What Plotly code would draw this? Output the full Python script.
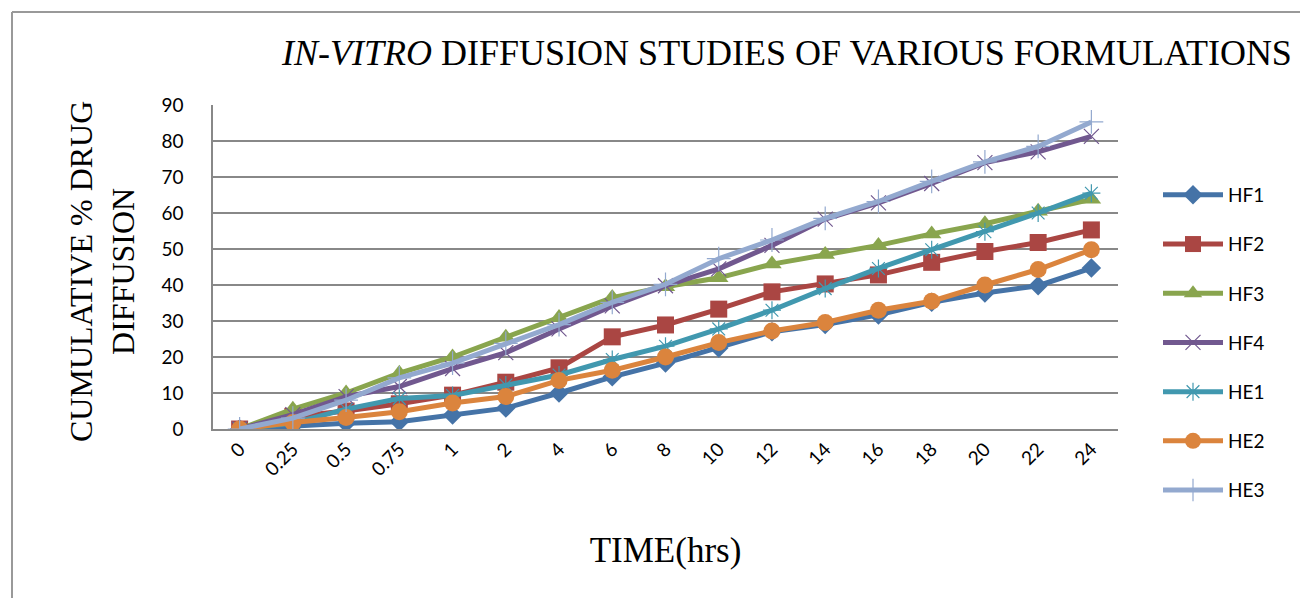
import plotly.graph_objects as go

time_labels = ["0", "0.25", "0.5", "0.75", "1", "2", "4", "6", "8", "10",
               "12", "14", "16", "18", "20", "22", "24"]

hf1 = [0, 0.8, 1.6, 2.0, 3.9, 5.8, 10.0, 14.5, 18.3, 22.5, 27.0, 29.0, 31.7, 35.2, 37.8, 39.8, 44.7]
hf2 = [0, 3.5, 5.0, 7.0, 9.4, 13.0, 17.0, 25.6, 28.9, 33.3, 38.1, 40.3, 42.8, 46.3, 49.3, 51.8, 55.3]
hf3 = [0, 5.5, 10.0, 15.5, 20.0, 25.5, 31.0, 36.5, 39.5, 42.0, 45.8, 48.5, 51.0, 54.2, 57.0, 60.5, 63.8]
hf4 = [0, 4.0, 9.0, 11.8, 16.8, 21.2, 27.8, 34.2, 39.8, 44.5, 51.0, 58.3, 62.8, 68.2, 74.0, 77.0, 81.3]
he1 = [0, 1.6, 5.5, 8.5, 9.3, 12.2, 15.0, 19.3, 23.0, 27.8, 33.0, 39.0, 44.6, 49.8, 54.8, 60.0, 65.5]
he2 = [0, 1.8, 3.2, 4.8, 7.2, 9.0, 13.5, 16.3, 20.0, 24.0, 27.2, 29.6, 33.0, 35.5, 40.0, 44.3, 49.8]
he3 = [0, 3.0, 8.0, 14.2, 18.3, 23.8, 29.0, 35.2, 40.2, 47.3, 52.5, 58.5, 63.2, 68.8, 74.2, 78.5, 85.3]

series = [
    ("HF1", hf1, "#4573A7", "diamond", 15, 0),
    ("HF2", hf2, "#AA4643", "square", 17, 0),
    ("HF3", hf3, "#89A54E", "triangle-up", 17, 0),
    ("HF4", hf4, "#71588F", "x-thin-open", 15, 1),
    ("HE1", he1, "#4198AF", "asterisk-open", 15, 1),
    ("HE2", he2, "#DB843D", "circle", 17, 0),
    ("HE3", he3, "#93A9CF", "cross-thin-open", 17, 1),
]

fig = go.Figure()
for name, vals, col, sym, sz, lw in series:
    mk = dict(symbol=sym, size=sz, color=col)
    if lw:
        mk["line"] = dict(color=col, width=1.2)
    fig.add_trace(go.Scatter(
        x=time_labels, y=vals, name=name, mode="lines+markers",
        line=dict(color=col, width=5), marker=mk, legendgroup=name,
    ))

L, R, T, B = 213, 1118, 105, 429
W, H = 1300, 598

def px_x(p):
    return (p - L) / (R - L)

def px_y(p):
    return (B - p) / (B - T)

fig.update_layout(
    width=W, height=H,
    margin=dict(l=L, r=W - R, t=T, b=H - B, autoexpand=False),
    paper_bgcolor="white", plot_bgcolor="white",
    title=dict(
        text="<i>IN-VITRO</i> DIFFUSION STUDIES OF VARIOUS FORMULATIONS",
        x=787 / W, xanchor="center", y=1 - 52 / H, yanchor="middle",
        font=dict(family="Liberation Serif", size=36, color="black"),
    ),
    xaxis=dict(
        type="category", range=[-0.5, len(time_labels) - 0.5],
        tickangle=-45, showgrid=False,
        showline=True, linecolor="#888888", linewidth=1.5,
        tickfont=dict(family="Lato", size=19, color="black"),
        ticks="", ticklabelstandoff=0,
        title=dict(text="TIME(hrs)", font=dict(family="Liberation Serif", size=35, color="black"),
                   standoff=58),
    ),
    yaxis=dict(
        range=[0, 90], dtick=10, showgrid=True, gridcolor="#888888", gridwidth=1.8,
        showline=True, linecolor="#888888", linewidth=1.5, zeroline=False,
        tickfont=dict(family="Lato", size=19, color="black"),
        ticks="", ticklabelstandoff=24,
    ),
    legend=dict(
        x=px_x(1158), xanchor="left", y=px_y(176), yanchor="top",
        font=dict(family="Lato", size=19, color="black"),
        tracegroupgap=21.5, bgcolor="rgba(0,0,0,0)", maxheight=560,
        itemwidth=60,
    ),
    annotations=[dict(
        text="CUMULATIVE % DRUG<br>DIFFUSION", textangle=-90,
        xref="paper", yref="paper", x=px_x(102), y=px_y(272),
        xanchor="center", yanchor="middle", showarrow=False,
        font=dict(family="Liberation Serif", size=32, color="black"),
    )],
    shapes=[
        dict(type="line", xref="paper", yref="paper", x0=px_x(12), x1=px_x(12),
             y0=px_y(12), y1=px_y(600), line=dict(color="#999999", width=2)),
        dict(type="line", xref="paper", yref="paper", x0=px_x(12), x1=px_x(1300),
             y0=px_y(12), y1=px_y(12), line=dict(color="#999999", width=2)),
    ],
    showlegend=True,
)

fig.write_html("out.html")
